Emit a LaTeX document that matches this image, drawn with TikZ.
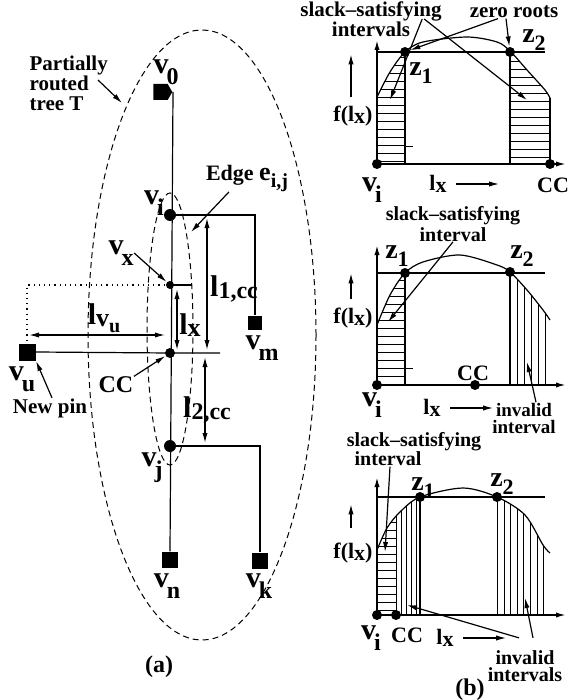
\documentclass[tikz,border=0pt]{standalone}
\usepackage{fontspec}
\setmainfont{Liberation Serif}
\usetikzlibrary{arrows.meta, shapes.symbols, positioning}

\newcommand{\vsub}[1]{{\fontsize{15}{15}\selectfont v}\kern-1pt\raisebox{-5.5pt}{\fontsize{12}{12}\selectfont #1}}
\newcommand{\zsub}[1]{{\fontsize{14}{14}\selectfont z}\raisebox{-4pt}{\fontsize{11}{11}\selectfont #1}}
\newcommand{\lsub}[1]{{\fontsize{15}{15}\selectfont l}\raisebox{-1pt}{\fontsize{12}{12}\selectfont #1}}
\newcommand{\plx}{{\fontsize{11}{11}\selectfont l\raisebox{-1pt}{x}}}
\newcommand{\flx}{{\fontsize{11}{11}\selectfont f(l\raisebox{-1pt}{x})}}

\begin{document}
\begin{tikzpicture}[x=0.5pt, y=-0.5pt, line width=0.6pt,
    >={Latex[length=5pt,width=2.6pt]},
    every node/.style={font=\bfseries, inner sep=0pt},
    dot/.style={circle, fill, minimum size=#1},
    pinsq/.style={fill, minimum size=#1},
    tag/.style={font=\bfseries\fontsize{10.5}{10}\selectfont, align=center},
    hatch/.style={line width=0.5pt},
    axis/.style={->, line width=0.8pt},
    region/.style={dash pattern=on 3pt off 2pt, line width=0.5pt}]
\useasboundingbox (0,0) rectangle (571,700);

% (a) partially routed tree
\node[signal, signal to=east, signal pointer angle=120, fill, minimum width=9.5pt, minimum height=8pt] (v0) at (160.5,92) {};
\node[dot=6pt] (vi) at (170,215) {};
\node[dot=4pt] (vx) at (170,285) {};
\node[dot=5pt] (cc) at (170,353) {};
\node[dot=6pt] (vj) at (170,446) {};
\node[pinsq=8pt] (vn) at (170,560) {};
\node[pinsq=8pt] (vk) at (260,561) {};
\node[pinsq=7pt] (vm) at (255,323) {};
\node[pinsq=8.5pt] (vu) at (27,352) {};

\draw (v0.east) -- (vn.north);
\draw (vi.center) -| (vm.north);
\draw (vj.center) -| (vk.north);
\draw (vx.center) -- ++(22,0);
\draw (vu.east) -- (cc.center) -- ++(50,0);
\draw[dotted] (vx.center) -| (vu.north);

\draw[region] (202,335) ellipse [x radius=57pt, y radius=152.5pt];
\draw[region] (170,329) ellipse [x radius=11.5pt, y radius=68pt];

% dimensions
\draw[<->] (29,335) -- (165,335);
\draw[<->] (177,289) -- (177,350);
\draw[<->] (207,218) -- (207,350);
\draw[<->] (205,357) -- (205,443);

\node (lv0) at (166,72) {\vsub{0}};
\node (lvi) at (154,203) {\vsub{i}};
\node (lvx) at (121,253) {\vsub{x}};
\node (lvm) at (262,348) {\vsub{m}};
\node (lvu) at (22,379) {\vsub{u}};
\node (lvj) at (152,468) {\vsub{j}};
\node (lvn) at (167,586) {\vsub{n}};
\node (lvk) at (259,586) {\vsub{k}};
\node[tag] (newpin) at (50,408) {New pin};
\node[font=\bfseries\fontsize{12}{12}\selectfont] (lcc) at (116,385) {CC};
\node (llvu) at (104,318) {\lsub{{\fontsize{13}{13}\selectfont v}\raisebox{-3pt}{\fontsize{10}{10}\selectfont u}}};
\node (llx) at (190,325) {\lsub{{\fontsize{13}{13}\selectfont x}}};
\node (ll1) at (234,289) {\lsub{1,cc}};
\node (ll2) at (207,410) {\lsub{2,cc}};
\node[tag, align=left, anchor=west] (tree) at (29,83) {Partially\\routed\\tree T};
\node (edge) at (247,178) {{\fontsize{11}{11}\selectfont Edge }{\fontsize{13}{13}\selectfont e}\raisebox{-3.5pt}{\fontsize{10}{10}\selectfont i,j}};
\node[font=\bfseries\fontsize{12}{12}\selectfont] (capa) at (159,667) {(a)};

\draw[->] (98,80) -- (122,103);
\draw[->] ([xshift=-9pt]edge.south) -- (191,232);
\draw[->] (lvx.east) -- (vx);
\draw[->] (lcc.north east) -- (cc);
\draw[->] ([xshift=1pt]newpin.north) -- (vu.south east);

% (b) top plot
\node[dot=5pt] (vi1) at (377,164) {};
\node[dot=5pt] (cc1) at (550,164) {};
\draw[axis] (vi1.center) -- (377,40);
\draw[axis] (vi1.center) -- (566,164);
\draw (377,52) -- (545,52);
\begin{scope}
  \clip (377,164) -- plot[smooth, tension=0.5] coordinates {(377,97) (390,72) (405,52) (423,42) (467,37) (497,42) (510,51) (527,70) (545,90) (550,98)} -- (550,164) -- cycle;
  \foreach \y in {58,66,...,162} \draw[hatch] (377,\y) -- (405,\y);
  \foreach \y in {62,70,...,158} \draw[hatch] (510,\y) -- (550,\y);
\end{scope}
\draw plot[smooth, tension=0.5] coordinates {(377,97) (390,72) (405,52) (423,42) (467,37) (497,42) (510,51) (527,70) (545,90) (550,98)};
\draw (405,52) -- (405,164);
\draw (510,52) -- (510,164);
\draw (550,98) -- (550,164);
\draw[hatch] (405,147) -- (413,147);
\node[dot=5pt] (z1a) at (405,52) {};
\node[dot=5pt] (z2a) at (510,52) {};

\node[tag] (sat1) at (371,19) {slack--satisfying\\intervals};
\node[tag] (zr) at (514,12) {zero roots};
\node (lz1a) at (421,73) {\zsub{1}};
\node (lz2a) at (534,40) {\zsub{2}};
\node (f1) at (353,116) {\flx};
\node (lvi1) at (372,190) {\vsub{i}};
\node[font=\bfseries\fontsize{11}{11}\selectfont] (lcc1) at (553,185) {CC};
\node (lx1) at (438,184) {\plx};
\draw[->] ([xshift=-10pt]sat1.east) -- (390,100);
\draw[->] ([xshift=-9pt]sat1.east) -- (527,100);
\draw[->] ([xshift=-8pt]zr.south) -- (z1a);
\draw[->] ([xshift=-4pt]zr.south) -- (z2a);
\draw[->] ([xshift=-1pt,yshift=4pt]f1.north) -- ++(0,-43);
\draw[->] ([xshift=4.5pt]lx1.east) -- ++(43,0);

% (b) middle plot
\node[dot=5pt] (vi2) at (377,385) {};
\node[dot=5pt] (cc2) at (475,385) {};
\draw[axis] (vi2.center) -- (377,245);
\draw[axis] (vi2.center) -- (566,385);
\draw (377,273) -- (545,273);
\begin{scope}
  \clip (377,385) -- plot[smooth, tension=0.5] coordinates {(377,325) (390,295) (405,273) (423,262) (460,255) (497,265) (510,272) (527,290) (543,310) (550,320)} -- (550,385) -- cycle;
  \foreach \y in {280,288,...,384} \draw[hatch] (377,\y) -- (405,\y);
  \foreach \x in {510,517,524,531,538,545,550} \draw[hatch] (\x,255) -- (\x,385);
\end{scope}
\draw plot[smooth, tension=0.5] coordinates {(377,325) (390,295) (405,273) (423,262) (460,255) (497,265) (510,272) (527,290) (543,310) (550,320)};
\draw (405,273) -- (405,385);
\draw (510,273) -- (510,385);
\draw[hatch] (405,368) -- (413,368);
\node[dot=5pt] (z1b) at (405,273) {};
\node[dot=5pt] (z2b) at (510,272) {};

\node[tag, font=\bfseries\fontsize{10}{9}\selectfont] (sat2) at (453,224) {slack--satisfying\\interval};
\node (lz1b) at (397,256) {\zsub{1}};
\node (lz2b) at (522,256) {\zsub{2}};
\node (f2) at (353,318) {\flx};
\node (lvi2) at (372,405) {\vsub{i}};
\node[font=\bfseries\fontsize{11}{11}\selectfont] (lcc2) at (473,373) {CC};
\node (lx2) at (432,408) {\plx};
\node[tag, font=\bfseries\fontsize{9.5}{8.5}\selectfont] (inv2) at (524,418) {invalid\\interval};
\draw[->] (sat2.south) -- (388,322);
\draw[->] ([xshift=-1pt,yshift=4pt]f2.north) -- ++(0,-26);
\draw[->] ([xshift=4.5pt]lx2.east) -- ++(43,0);
\draw[->] ([xshift=6pt]inv2.north) -- (527,362);

% (b) bottom plot
\node[dot=5pt] (vi3) at (377,615) {};
\node[dot=5pt] (cc3) at (396,615) {};
\draw[axis] (vi3.center) -- (377,477);
\draw[axis] (vi3.center) -- (566,615);
\draw (377,497) -- (545,497);
\begin{scope}
  \clip (377,615) -- plot[smooth, tension=0.5] coordinates {(377,550) (387,528) (400,512) (420,497) (463,488) (497,497) (525,515) (543,545) (550,553)} -- (550,615) -- cycle;
  \foreach \y in {522,530,...,610} \draw[hatch] (377,\y) -- (396,\y);
  \foreach \x in {396,401,406,411,416} \draw[hatch] (\x,480) -- (\x,615);
  \foreach \x in {497,504,510,517,523,530,537,543,550} \draw[hatch] (\x,480) -- (\x,615);
\end{scope}
\draw plot[smooth, tension=0.5] coordinates {(377,550) (387,528) (400,512) (420,497) (463,488) (497,497) (525,515) (543,545) (550,553)};
\draw (420,497) -- (420,615);
\node[dot=5pt] (z1c) at (420,497) {};
\node[dot=5pt] (z2c) at (497,497) {};

\node[tag, font=\bfseries\fontsize{10}{10}\selectfont] (sat3) at (414,442) {slack--satisfying};
\node[tag, font=\bfseries\fontsize{10}{10}\selectfont] (int3) at (388,459) {interval};
\node (lz1c) at (423,488) {\zsub{1}};
\node (lz2c) at (502,484) {\zsub{2}};
\node (f3) at (353,553) {\flx};
\node (lvi3) at (371,638) {\vsub{i}};
\node[font=\bfseries\fontsize{11}{11}\selectfont] (lcc3) at (407,635) {CC};
\node (lx3) at (445,638) {\plx};
\node[tag, font=\bfseries\fontsize{10}{8.5}\selectfont] (inv3) at (525,666) {invalid\\intervals};
\node[font=\bfseries\fontsize{12}{12}\selectfont] (capb) at (470,690) {(b)};
\draw[->] ([xshift=1pt]int3.south) -- (385,552);
\draw[->] ([xshift=-1pt,yshift=7pt]f3.north) -- ++(0,-24);
\draw[->] ([xshift=4.5pt]lx3.east) -- ++(43,0);
\draw[->] ([xshift=-3pt,yshift=6pt]inv3.north) -- (407,605);
\draw[->] ([xshift=4pt,yshift=6pt]inv3.north) -- (525,598);
\end{tikzpicture}
\end{document}
